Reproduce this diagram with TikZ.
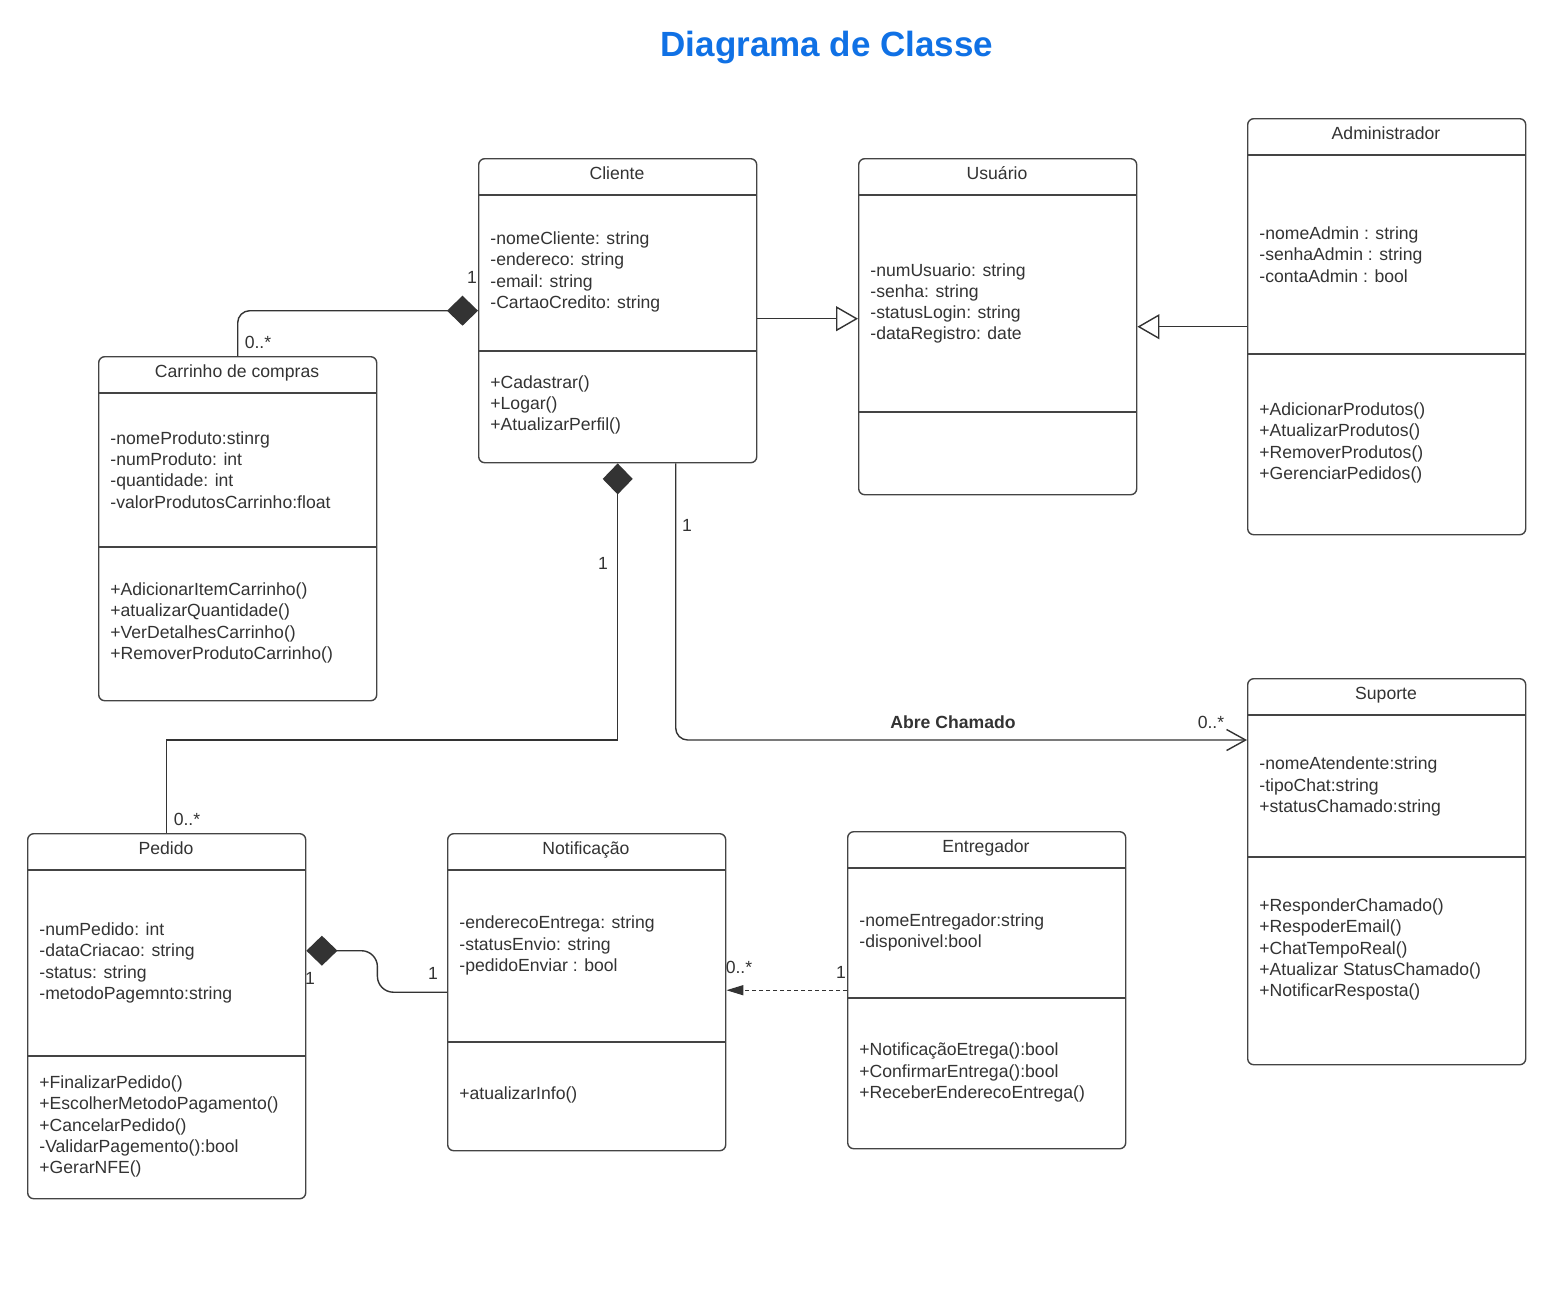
\documentclass[tikz,border=0pt]{standalone}
\usepackage{fontspec}
\setmainfont{Liberation Sans}
\usetikzlibrary{arrows.meta,calc}
\definecolor{ink}{HTML}{333333}
\definecolor{boxline}{HTML}{444444}
\definecolor{titleblue}{HTML}{1071E5}
\tikzset{
  classbox/.style={draw=boxline, line width=0.7pt, rounded corners=3pt, inner sep=0pt, anchor=north west},
  sepline/.style={draw=boxline, line width=0.7pt},
  ctitle/.style={font=\fontsize{8.8}{10.5}\selectfont, text=ink, inner sep=0pt, text height=6.4pt, text depth=1.9pt},
  members/.style={font=\fontsize{8.8}{10.6}\selectfont, text=ink, align=left, anchor=west, inner sep=0pt, yshift=-1pt},
  lbl/.style={font=\fontsize{8.8}{10.5}\selectfont, text=ink, inner sep=0pt},
  conn/.style={draw=ink, line width=0.7pt},
  gentip/.style={-{Triangle[open, length=11pt, width=12.5pt, fill=white]}},
  comptip/.style={{Diamond[length=15.5pt, width=15pt, fill=ink]}-},
  comptipend/.style={-{Diamond[length=15.5pt, width=15pt, fill=ink]}},
  assoctip/.style={-{Straight Barb[length=9.5pt, width=10.5pt]}},
  deptip/.style={-{Triangle[length=8.5pt, width=5pt, fill=ink]}, dash pattern=on 2pt off 1.5pt},
}
\newcommand\umlclass[8]{%
  \node[classbox, minimum width=#4*0.5pt, minimum height=#5*0.5pt] (#1) at (#2,#3) {};
  \draw[sepline] (#2,#6) -- ++(#4,0);
  \draw[sepline] (#2,#7) -- ++(#4,0);
  \node[ctitle] (#1-title) at ({#2+#4/2},{#3+17}) {#8};
}
\begin{document}
\begin{tikzpicture}[x=0.5pt,y=-0.5pt]
\useasboundingbox (0,0) rectangle (1542,1298);
\fill[white] (0,0) rectangle (1542,1298);

\node[font=\bfseries\fontsize{17.5}{20}\selectfont, text=titleblue, inner sep=0pt] (title) at (827,48) {Diagrama de Classe};

% classes
\umlclass{cliente}{478}{158}{278}{304}{195}{351}{Cliente}
\node[members] (cliente-attr) at (490,270) {-nomeCliente: string\\-endereco: string\\-email: string\\-CartaoCredito: string};
\node[members] (cliente-meth) at (490,403) {+Cadastrar()\\+Logar()\\+AtualizarPerfil()};

\umlclass{usuario}{858}{158}{278}{336}{195}{412}{Usuário}
\node[members] (usuario-attr) at (870,301.5) {-numUsuario: string\\-senha: string\\-statusLogin: string\\-dataRegistro: date};

\umlclass{admin}{1247}{118}{278}{416}{155}{354}{Administrador}
\node[members] (admin-attr) at (1259,252.5) {-nomeAdmin : string\\-senhaAdmin : string\\-contaAdmin : bool};
\node[members] (admin-meth) at (1259,441) {+AdicionarProdutos()\\+AtualizarProdutos()\\+RemoverProdutos()\\+GerenciarPedidos()};

\umlclass{carrinho}{98}{356}{278}{344}{393}{547}{Carrinho de compras}
\node[members] (carrinho-attr) at (110,468) {-nomeProduto:stinrg\\-numProduto: int\\-quantidade: int\\-valorProdutosCarrinho:float};
\node[members] (carrinho-meth) at (110,621) {+AdicionarItemCarrinho()\\+atualizarQuantidade()\\+VerDetalhesCarrinho()\\+RemoverProdutoCarrinho()};

\umlclass{suporte}{1247}{678}{278}{386}{715}{857}{Suporte}
\node[members] (suporte-attr) at (1259,784.5) {-nomeAtendente:string\\-tipoChat:string\\+statusChamado:string};
\node[members] (suporte-meth) at (1259,947.5) {+ResponderChamado()\\+RespoderEmail()\\+ChatTempoReal()\\+Atualizar StatusChamado()\\+NotificarResposta()};

\umlclass{pedido}{27}{833}{278}{365}{870}{1056}{Pedido}
\node[members] (pedido-attr) at (39,961) {-numPedido: int\\-dataCriacao: string\\-status: string\\-metodoPagemnto:string};
\node[members] (pedido-meth) at (39,1124.5) {+FinalizarPedido()\\+EscolherMetodoPagamento()\\+CancelarPedido()\\-ValidarPagemento():bool\\+GerarNFE()};

\umlclass{notif}{447}{833}{278}{317}{870}{1042}{Notificação}
\node[members] (notif-attr) at (459,943.5) {-enderecoEntrega: string\\-statusEnvio: string\\-pedidoEnviar : bool};
\node[members] (notif-meth) at (459,1093) {+atualizarInfo()};

\umlclass{entregador}{847}{831}{278}{317}{868}{998}{Entregador}
\node[members] (entregador-attr) at (859,930.5) {-nomeEntregador:string\\-disponivel:bool};
\node[members] (entregador-meth) at (859,1070.5) {+NotificaçãoEtrega():bool\\+ConfirmarEntrega():bool\\+ReceberEnderecoEntrega()};

% connectors
\coordinate (bus) at (0,740);
% Carrinho -- Cliente (composition)
\draw[conn, comptipend, rounded corners=6pt] (carrinho.north) |- (cliente.west);
\node[lbl] (l1) at (472,277) {1};
\node[lbl] (l2) at (258,342) {0..*};

% Cliente -> Usuario (generalization)
\coordinate (g1) at ($(cliente.east)+(0,8)$);
\draw[conn, gentip] (g1) -- (g1 -| usuario.west);

% Administrador -> Usuario (generalization)
\draw[conn, gentip] (admin.west) -- (usuario.east);

% Cliente -- Pedido (composition)
\draw[conn, comptip] (cliente.south) |- (bus -| pedido.north) -- (pedido.north);
\node[lbl] (l3) at (603,563) {1};
\node[lbl] (l4) at (187,819) {0..*};

% Cliente -> Suporte (association)
\coordinate (a1) at ($(cliente.south)+(58,0)$);
\draw[conn, assoctip, rounded corners=6pt] (a1) |- (bus -| suporte.west);
\node[lbl] (l5) at (687,525) {1};
\node[lbl, font=\bfseries\fontsize{8.8}{10.5}\selectfont] (assoc) at (953,722) {Abre Chamado};
\node[lbl] (l6) at (1211,722) {0..*};

% Pedido -- Notificacao (composition)
\coordinate (p1) at ($(pedido.east)+(0,-65.5)$);
\draw[conn, comptip, rounded corners=8pt] (p1) -- ++(71,0) |- (notif.west);
\node[lbl] (l7) at (310,978) {1};
\node[lbl] (l8) at (433,973) {1};

% Entregador -> Notificacao (dependency)
\draw[conn, deptip] (entregador.west) -- (entregador.west -| notif.east);
\node[lbl] (l9) at (739,967) {0..*};
\node[lbl] (l10) at (841,972) {1};
\end{tikzpicture}
\end{document}
